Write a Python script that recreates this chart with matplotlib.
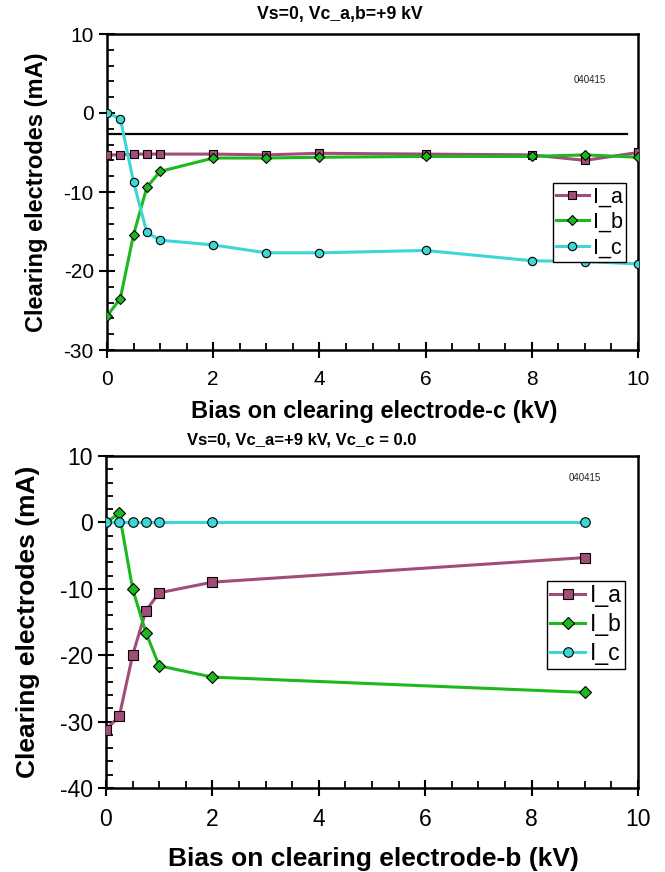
import matplotlib
matplotlib.use("Agg")
import matplotlib.pyplot as plt
from matplotlib.ticker import MultipleLocator

plt.rcParams['font.family'] = ['Liberation Sans', 'DejaVu Sans']
plt.rcParams['axes.unicode_minus'] = False

# ---- data: top panel (bias on electrode c) ----
top_x = [0, 0.25, 0.5, 0.75, 1, 2, 3, 4, 6, 8, 9, 10]
top_Ia = [-5.3, -5.3, -5.2, -5.2, -5.2, -5.2, -5.3, -5.1, -5.2, -5.3, -6.0, -5.0]
top_Ib = [-25.7, -23.5, -15.4, -9.4, -7.4, -5.7, -5.7, -5.6, -5.5, -5.5, -5.3, -5.6]
top_Ic = [0.0, -0.7, -8.75, -15.1, -16.1, -16.7, -17.7, -17.7, -17.4, -18.7, -18.8, -19.1]
top_ref_y = -2.6
top_ref_x = [0, 9.8]

# ---- data: bottom panel (bias on electrode b) ----
bot_x = [0, 0.25, 0.5, 0.75, 1, 2, 9]
bot_Ia = [-31.2, -29.2, -20.0, -13.3, -10.6, -9.0, -5.3]
bot_Ib = [0.0, 1.35, -10.0, -16.6, -21.6, -23.3, -25.6]
bot_Ic = [0.0, 0.0, 0.0, 0.0, 0.0, 0.0, 0.0]

labels = ['I_a', 'I_b', 'I_c']
top_title = 'Vs=0, Vc_a,b=+9 kV'
bot_title = 'Vs=0, Vc_a=+9 kV, Vc_c = 0.0'
stamp = '040415'

c_a = '#A24C78'
c_b = '#1DB81D'
c_c = '#3DD6D6'

W, H = 665, 872
fig = plt.figure(figsize=(W / 100, H / 100), dpi=100)


def fx(px):
    return px / W


def fy(py):
    return 1 - py / H


ax1 = fig.add_axes([fx(107), fy(350), fx(638) - fx(107), fy(34) - fy(350)])
ax2 = fig.add_axes([fx(106), fy(788), fx(638) - fx(106), fy(456) - fy(788)])


def style(ax, ylo, yhi, tick_fs, lab_fs, xlabel, xlab_y, ylab_x):
    ax.set_xlim(0, 10)
    ax.set_ylim(ylo, yhi)
    ax.xaxis.set_major_locator(MultipleLocator(2))
    ax.xaxis.set_minor_locator(MultipleLocator(0.5))
    ax.yaxis.set_major_locator(MultipleLocator(10))
    ax.yaxis.set_minor_locator(MultipleLocator(2))
    for s in ax.spines.values():
        s.set_linewidth(1.8)
        s.set_color('black')
    ax.tick_params(which='major', direction='inout', length=11, width=1.5,
                   labelsize=tick_fs, top=False, right=False)
    ax.tick_params(which='minor', direction='in', length=5, width=1.3,
                   top=False, right=False)
    ax.tick_params(axis='x', which='major', pad=9)
    ax.tick_params(axis='y', which='major', pad=4)
    ax.set_xlabel(xlabel, fontsize=lab_fs, fontweight='bold')
    ax.set_ylabel('Clearing electrodes (mA)', fontsize=lab_fs, fontweight='bold')
    ax.xaxis.set_label_coords(0.503, xlab_y)
    ax.yaxis.set_label_coords(ylab_x, 0.5)


def plot_series(ax, x, ya, yb, yc, ms_scale):
    ax.plot(x, ya, color=c_a, lw=2.2, marker='s', ms=6 * ms_scale, mfc=c_a,
            mec='black', mew=0.8, label=labels[0], zorder=3)
    ax.plot(x, yb, color=c_b, lw=2.2, marker='D', ms=5 * ms_scale, mfc=c_b,
            mec='black', mew=0.8, label=labels[1], zorder=4)
    ax.plot(x, yc, color=c_c, lw=2.2, marker='o', ms=6 * ms_scale, mfc=c_c,
            mec='black', mew=0.8, label=labels[2], zorder=5)


def add_legend(ax, x0, y0, fs, spacing):
    leg = ax.legend(loc='upper left', bbox_to_anchor=(fx(x0), fy(y0)),
                    bbox_transform=fig.transFigure, fontsize=fs, frameon=True,
                    fancybox=False, edgecolor='black', framealpha=1,
                    handlelength=1.5, handletextpad=0.2, borderpad=0.15,
                    labelspacing=spacing, borderaxespad=0)
    leg.get_frame().set_linewidth(1.0)
    leg.set_zorder(10)
    return leg


# top panel
plot_series(ax1, top_x, top_Ia, top_Ib, top_Ic, 1.0)
ax1.plot(top_ref_x, [top_ref_y, top_ref_y], color='black', lw=1.6, zorder=2)
style(ax1, -30, 10, 15, 17, 'Bias on clearing electrode-c (kV)', -0.158, -0.111)
ax1.text(9.1, 4.2, stamp, fontsize=7, ha='center', va='center', color='#222222')
add_legend(ax1, 553, 183, 15.5, 0.22)

# bottom panel
plot_series(ax2, bot_x, bot_Ia, bot_Ib, bot_Ic, 1.15)
style(ax2, -40, 10, 16.5, 19, 'Bias on clearing electrode-b (kV)', -0.178, -0.124)
ax2.text(9.0, 6.66, stamp, fontsize=7, ha='center', va='center', color='#222222')
add_legend(ax2, 547, 581, 16.5, 0.26)

# titles
fig.text(fx(257), fy(15), top_title, fontsize=12.7, fontweight='bold',
         ha='left', va='center')
fig.text(fx(187), fy(440), bot_title, fontsize=12, fontweight='bold',
         ha='left', va='center')

fig.savefig('out.png', dpi=100)
